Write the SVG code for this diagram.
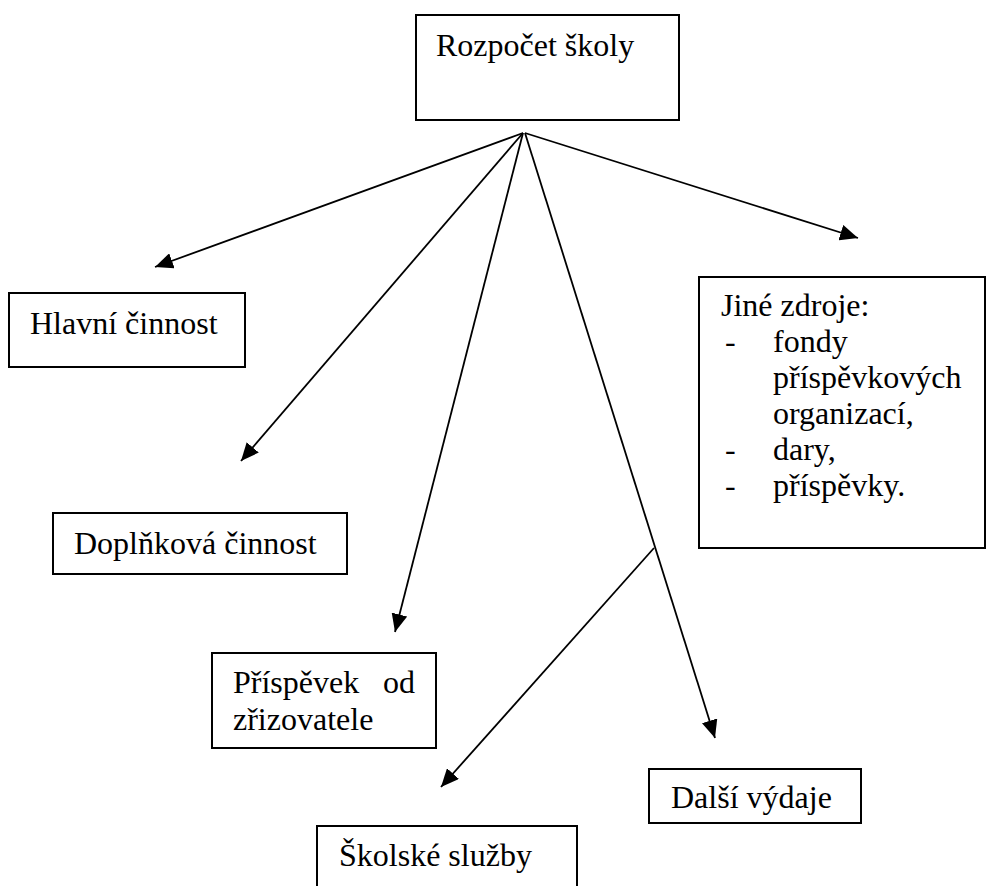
<svg xmlns="http://www.w3.org/2000/svg" width="988" height="886" viewBox="0 0 988 886">
<style>
.box{fill:#fff;stroke:#000;stroke-width:2}
text{font-size:32px;fill:#000}
.c{stroke:#000;stroke-width:1.8;fill:none;marker-end:url(#ah)}
</style>
<defs>
<marker id="ah" markerUnits="userSpaceOnUse" markerWidth="18" markerHeight="16" refX="18" refY="8" orient="auto">
<path d="M0,0 L18,8 L0,16 z" fill="#000"/>
</marker>
</defs>
<rect width="988" height="886" fill="#fff"/>
<g id="connectors">
<line class="c" x1="523" y1="133" x2="155" y2="267"/>
<line class="c" x1="523" y1="133" x2="241" y2="461"/>
<line class="c" x1="523" y1="133" x2="395" y2="632"/>
<line class="c" x1="525" y1="133" x2="715" y2="738"/>
<line class="c" x1="525" y1="133" x2="858" y2="238"/>
<line class="c" x1="654" y1="548" x2="441" y2="787"/>
</g>
<g id="rozpocet">
<rect class="box" x="416" y="15" width="263" height="105"/>
<text x="436" y="56" style="font-family:serif">Rozpočet školy</text>
</g>
<g id="hlavni">
<rect class="box" x="9" y="293" width="236" height="74"/>
<text x="30" y="334" style="font-family:Tinos">Hlavní činnost</text>
</g>
<g id="doplnkova">
<rect class="box" x="53" y="513" width="294" height="61"/>
<text x="74" y="554" style="font-family:'Liberation Serif'">Doplňková činnost</text>
</g>
<g id="prispevek">
<rect class="box" x="212" y="653" width="224" height="95"/>
<text x="233" y="693" font-family="Liberation Serif">Příspěvek</text>
<text x="415" y="693" text-anchor="end" font-family="Liberation Serif">od</text>
<text x="233" y="730" font-family="Liberation Serif">zřizovatele</text>
</g>
<g id="skolske">
<rect class="box" x="317" y="826" width="260" height="80"/>
<text x="339" y="866" style="font-family:'Times New Roman',serif">Školské služby</text>
</g>
<g id="dalsi">
<rect class="box" x="649" y="769" width="212" height="54"/>
<text x="671" y="808" style="font-family:'Nimbus Roman',serif">Další výdaje</text>
</g>
<g id="jine" style="font-family:'Liberation Serif',serif">
<rect class="box" x="699" y="277" width="286" height="271"/>
<text x="721" y="316">Jiné zdroje:</text>
<text x="725" y="352">-</text>
<text x="773" y="352">fondy</text>
<text x="773" y="388">příspěvkových</text>
<text x="773" y="424">organizací,</text>
<text x="725" y="460">-</text>
<text x="773" y="460">dary,</text>
<text x="725" y="496">-</text>
<text x="773" y="496">příspěvky.</text>
</g>
</svg>
